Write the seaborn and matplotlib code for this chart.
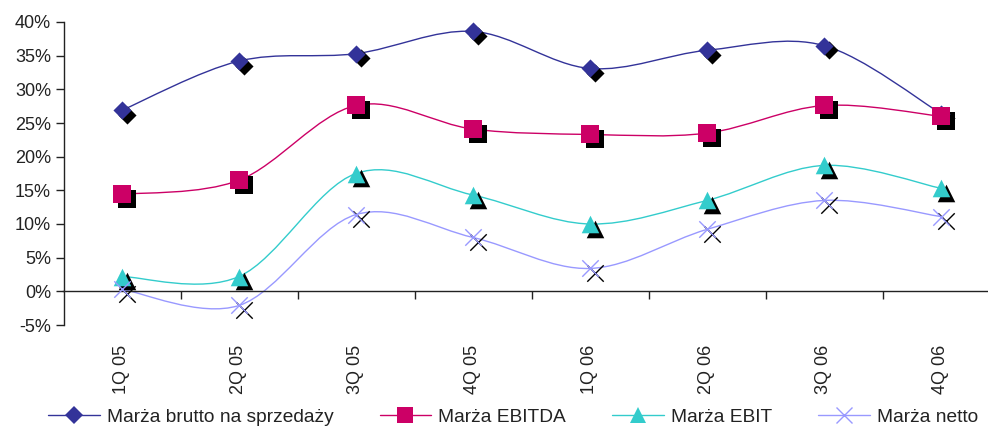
import numpy as np
import matplotlib
matplotlib.use("Agg")
import matplotlib.pyplot as plt
import matplotlib.transforms as mtransforms
from matplotlib.path import Path
from matplotlib.patches import PathPatch
from matplotlib.lines import Line2D
import seaborn as sns

categories = ["1Q 05", "2Q 05", "3Q 05", "4Q 05", "1Q 06", "2Q 06", "3Q 06", "4Q 06"]
brutto = [26.9, 34.2, 35.3, 38.6, 33.1, 35.8, 36.5, 26.4]
ebitda = [14.4, 16.5, 27.6, 24.1, 23.3, 23.5, 27.6, 26.0]
ebit = [2.2, 2.2, 17.5, 14.3, 10.0, 13.5, 18.7, 15.3]
netto = [0.3, -2.1, 11.4, 8.0, 3.4, 9.2, 13.5, 11.1]
series_names = ["Marża brutto na sprzedaży", "Marża EBITDA", "Marża EBIT", "Marża netto"]
y_ticks = [-5, 0, 5, 10, 15, 20, 25, 30, 35, 40]
y_tick_labels = ["-5%", "0%", "5%", "10%", "15%", "20%", "25%", "30%", "35%", "40%"]

sns.set_style("white")
plt.rcParams["font.family"] = ["Liberation Sans", "DejaVu Sans"]
TXT = "#222222"

fig = plt.figure(figsize=(9.88, 4.26), dpi=100)
W, H = 988, 426
x0_px, x_step = 122, 117
left_px = x0_px - 0.5 * x_step
right_px = x0_px + 7.5 * x_step
top_px, bot_px = 22, 325
ax = fig.add_axes([left_px / W, 1 - bot_px / H, (right_px - left_px) / W, (bot_px - top_px) / H])
ax.set_xlim(-0.5, 7.5)
ax.set_ylim(-5, 40)

styles = [
    dict(color="#333399", marker="D", s=85, lw=0),
    dict(color="#CC0066", marker="s", s=160, lw=0),
    dict(color="#33CCCC", marker="^", s=160, lw=0),
    dict(color="#9999FF", marker="x", s=140, lw=1.0),
]
all_series = [brutto, ebitda, ebit, netto]
xs = np.arange(len(categories))

def smooth_path(x, y):
    pts = np.column_stack([x, y]).astype(float)
    n = len(pts)
    verts = [pts[0]]
    codes = [Path.MOVETO]
    for i in range(n - 1):
        p0 = pts[i - 1] if i > 0 else pts[i]
        p1 = pts[i]
        p2 = pts[i + 1]
        p3 = pts[i + 2] if i + 2 < n else pts[i + 1]
        c1 = p1 + (p2 - p0) / 6.0
        c2 = p2 - (p3 - p1) / 6.0
        verts += [c1, c2, p2]
        codes += [Path.CURVE4] * 3
    return Path(verts, codes)

shadow = ax.transData + mtransforms.ScaledTranslation(4.5 / 100, -4.5 / 100, fig.dpi_scale_trans)

for vals, st in zip(all_series, styles):
    patch = PathPatch(smooth_path(xs, vals), facecolor="none", edgecolor=st["color"], lw=1.0, zorder=2)
    ax.add_patch(patch)
    kw = dict(marker=st["marker"], s=st["s"], linewidth=st["lw"] if st["marker"] == "x" else 0)
    sns.scatterplot(x=xs, y=vals, color="black", ax=ax, transform=shadow, zorder=3, **kw)
    sns.scatterplot(x=xs, y=vals, color=st["color"], ax=ax, zorder=4, **kw)

for sp in ["top", "right"]:
    ax.spines[sp].set_visible(False)
ax.spines["left"].set_color(TXT)
ax.spines["left"].set_linewidth(1.0)
ax.spines["bottom"].set_position(("data", 0))
ax.spines["bottom"].set_color(TXT)
ax.spines["bottom"].set_linewidth(1.0)

ax.set_yticks(y_ticks)
ax.set_yticklabels(y_tick_labels)
ax.tick_params(axis="y", which="major", direction="out", length=6, width=1, color=TXT,
               labelsize=13, labelcolor=TXT, left=True, pad=3)

ax.set_xticks(xs)
ax.set_xticklabels([])
ax.tick_params(axis="x", which="major", length=0)
ax.set_xticks(np.arange(0.5, 7.5, 1.0), minor=True)
ax.tick_params(axis="x", which="minor", direction="out", length=6, width=1, color=TXT, bottom=True)

sec = ax.secondary_xaxis("bottom")
sec.set_xticks(xs)
sec.set_xticklabels(categories, rotation=90, fontsize=13, color=TXT)
sec.tick_params(axis="x", length=0, pad=14)
sec.spines["bottom"].set_visible(False)

ax.set_xlabel("")
ax.set_ylabel("")
ax.grid(False)

handles = [Line2D([0], [0], color=st["color"], lw=1.0, marker=st["marker"],
                  markersize=(9 if st["marker"] == "D" else 11),
                  markeredgewidth=(1.0 if st["marker"] == "x" else 0))
           for st in styles]
fig.legend(handles, series_names, loc="center", bbox_to_anchor=(513 / W, 1 - 417 / H), ncol=4,
           frameon=False, fontsize=13.8, handlelength=2.7, handletextpad=0.36,
           columnspacing=2.4, labelcolor=TXT, borderpad=0)

fig.savefig("out.png", dpi=100)
